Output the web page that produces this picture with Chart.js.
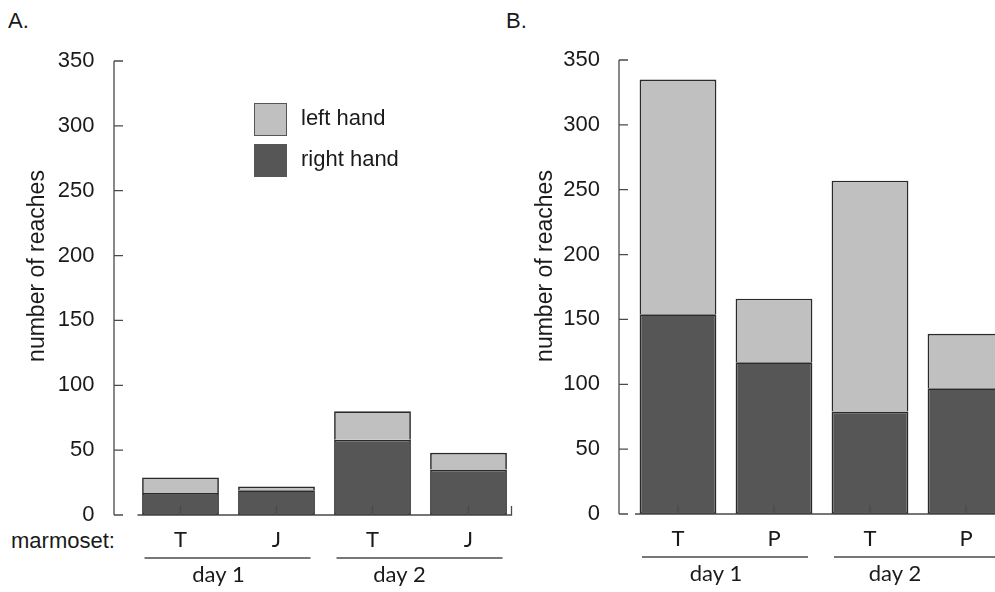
<!DOCTYPE html>
<html>
<head>
<meta charset="utf-8">
<script src="https://cdn.jsdelivr.net/npm/chart.js@4.4.0/dist/chart.umd.min.js"></script>
<style>
  body { margin: 0; width: 995px; height: 592px; overflow: hidden; background: #fff; position: relative;
         font-family: "Liberation Sans", Arial, sans-serif; color: #1a1a1a; }
  .txt { position: absolute; font-size: 22px; line-height: 24px; white-space: nowrap; }
  .painel { position: absolute; top: 0; }
  .caixa { position: absolute; width: 31px; height: 31px; border: 1px solid #555; }
</style>
</head>
<body>
<div class="txt" style="left:8px;top:9px">A.</div>
<div class="txt" style="left:506px;top:9px">B.</div>
<div class="txt" style="left:11px;top:529px">marmoset:</div>

<div class="painel" style="left:0px"><canvas id="chartA" width="520" height="592"></canvas></div>
<div class="painel" style="left:508px"><canvas id="chartB" width="540" height="592"></canvas></div>

<div class="caixa" id="caixaEsq" style="left:254px;top:103px"></div>
<div class="caixa" id="caixaDir" style="left:254px;top:144px"></div>
<div class="txt" style="left:301px;top:106px">left hand</div>
<div class="txt" style="left:301px;top:147px">right hand</div>

<script>
// dados
const marmosetasA = ['T', 'J', 'T', 'J'];
const marmosetasB = ['T', 'P', 'T', 'P'];
const dias = ['day 1', 'day 2'];
const direitaA = [17, 19, 58, 35];
const esquerdaA = [12, 3, 22, 13];
const direitaB = [154, 117, 79, 97];
const esquerdaB = [181, 49, 178, 42];
const ticksY = [0, 50, 100, 150, 200, 250, 300, 350];

const corEsq = '#c0c0c0';
const corDir = '#565656';
const corEixo = '#4a4a4a';
const fonte = "'Liberation Sans', Arial, sans-serif";
const fonteX = "Lato, 'Open Sans', sans-serif";

document.getElementById('caixaEsq').style.background = corEsq;
document.getElementById('caixaDir').style.background = corDir;

// eixos no estilo do R + agrupamento por dia + título do eixo y
const eixosR = {
    id: 'eixosR',
    afterDatasetsDraw(chart, args, opts) {
        const { ctx, chartArea, scales: { x, y } } = chart;
        const y0 = y.getPixelForValue(0);
        const ax = chartArea.left - opts.gapY;
        ctx.save();
        ctx.strokeStyle = corEixo;
        ctx.lineWidth = 1.3;
        ctx.beginPath();
        ctx.moveTo(ax, y.getPixelForValue(ticksY[ticksY.length - 1]));
        ctx.lineTo(ax, y0);
        ticksY.forEach(v => {
            const py = y.getPixelForValue(v);
            ctx.moveTo(ax, py);
            ctx.lineTo(ax + 9, py);
        });
        ctx.moveTo(chartArea.left + 5, y0);
        ctx.lineTo(chartArea.right - 5, y0);
        ctx.lineTo(chartArea.right - 5, y0 - 9);
        x.ticks.forEach((t, i) => {
            const px = x.getPixelForValue(i);
            ctx.moveTo(px, y0);
            ctx.lineTo(px, y0 - 9);
        });
        ctx.stroke();

        // linhas e rótulos dos dias
        ctx.fillStyle = '#1a1a1a';
        ctx.font = '22px ' + fonteX;
        ctx.textAlign = 'center';
        ctx.textBaseline = 'middle';
        dias.forEach((d, g) => {
            const p1 = x.getPixelForValue(g * 2);
            const p2 = x.getPixelForValue(g * 2 + 1);
            ctx.beginPath();
            ctx.moveTo(p1 - 36, y0 + 43);
            ctx.lineTo(p2 + 34, y0 + 43);
            ctx.stroke();
            ctx.fillText(d, (p1 + p2) / 2 + opts.deslocDia[g], y0 + 60);
        });

        // título do eixo y
        ctx.font = '23px ' + fonte;
        ctx.translate(opts.tituloX, opts.tituloY);
        ctx.rotate(-Math.PI / 2);
        ctx.fillText('number of reaches', 0, 0);
        ctx.restore();
    }
};

function gerarGrafico(id, rotulos, direita, esquerda, cfg) {
    const ctx = document.getElementById(id).getContext('2d');
    return new Chart(ctx, {
        type: 'bar',
        data: {
            labels: rotulos,
            datasets: [
                { label: 'right hand', data: direita, backgroundColor: corDir, borderSkipped: false },
                { label: 'left hand', data: esquerda, backgroundColor: corEsq, borderSkipped: 'start' }
            ]
        },
        options: {
            responsive: false,
            animation: false,
            layout: { padding: { top: cfg.topo, right: cfg.direita, left: 0, bottom: 0 } },
            datasets: {
                bar: {
                    borderColor: '#2a2a2a',
                    borderWidth: 1.7,
                    barPercentage: 0.8,
                    categoryPercentage: 1.0
                }
            },
            scales: {
                x: {
                    stacked: true,
                    grid: { display: false, drawTicks: false },
                    border: { display: false },
                    ticks: { color: '#1a1a1a', font: { family: fonteX, size: 22 }, padding: 12 },
                    afterFit: s => { s.height = cfg.alturaX; }
                },
                y: {
                    stacked: true,
                    min: 0,
                    max: 350,
                    grid: { display: false, drawTicks: false },
                    border: { display: false },
                    ticks: { stepSize: 50, color: '#1a1a1a', font: { family: fonte, size: 22 }, padding: cfg.padTicks },
                    afterFit: s => { s.width = cfg.larguraY; }
                }
            },
            plugins: {
                legend: { display: false },
                tooltip: { enabled: false },
                eixosR: { gapY: cfg.gapY, deslocDia: cfg.deslocDia, tituloX: 38, tituloY: 266 }
            }
        },
        plugins: [eixosR]
    });
}

gerarGrafico('chartA', marmosetasA, direitaA, esquerdaA,
    { topo: 61, direita: 3.5, alturaX: 77, larguraY: 132.5, padTicks: 38, gapY: 18.5, deslocDia: [-10, -21] });
gerarGrafico('chartB', marmosetasB, direitaB, esquerdaB,
    { topo: 60, direita: 34, alturaX: 78, larguraY: 122, padTicks: 30, gapY: 11, deslocDia: [-10, -23] });
</script>
</body>
</html>
